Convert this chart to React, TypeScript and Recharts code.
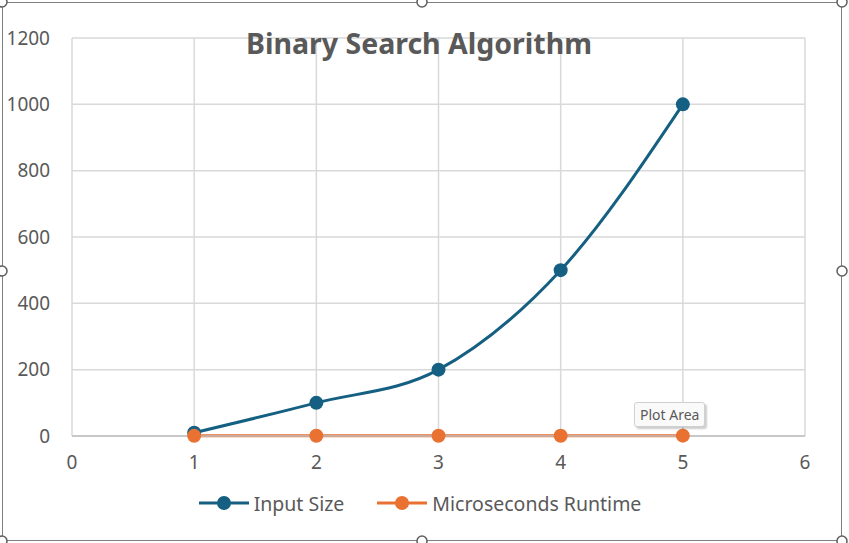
import React from "react";
import {
  LineChart,
  Line,
  XAxis,
  YAxis,
  CartesianGrid,
  Legend,
} from "recharts";

const xValues = [1, 2, 3, 4, 5];
const inputSize = [10, 100, 200, 500, 1000];
const runtime = [0.5, 0.7, 0.8, 0.9, 1];
const xTicks = [0, 1, 2, 3, 4, 5, 6];
const yTicks = [0, 200, 400, 600, 800, 1000, 1200];
const seriesNames = ["Input Size", "Microseconds Runtime"];
const seriesColors = ["#156082", "#E97132"];
const title = "Binary Search Algorithm";

const data = xValues.map((x, i) => ({
  x,
  input: inputSize[i],
  runtime: runtime[i],
}));

const FONT = "'Noto Sans', 'Open Sans', sans-serif";
const TEXT = "#595959";

const LegendContent = () => (
  <div
    style={{
      display: "flex",
      justifyContent: "center",
      alignItems: "center",
      height: 24,
      fontFamily: FONT,
      fontSize: 19.5,
      color: TEXT,
      paddingLeft: 22,
    }}
  >
    {seriesNames.map((name, i) => (
      <div
        key={name}
        style={{ display: "flex", alignItems: "center", marginRight: i === 0 ? 32 : 0 }}
      >
        <svg width={52} height={16} style={{ marginRight: 4 }}>
          <line x1={1} y1={8} x2={51} y2={8} stroke={seriesColors[i]} strokeWidth={3} />
          <circle cx={26} cy={8} r={7} fill={seriesColors[i]} />
        </svg>
        <span>{name}</span>
      </div>
    ))}
  </div>
);

const handles: [number, number][] = [
  [2, 2], [422, 2], [842, 2],
  [2, 271], [842, 271],
  [2, 541], [422, 541], [842, 541],
];

export default function App() {
  return (
    <div
      style={{
        position: "absolute",
        left: 0,
        top: 0,
        width: 849,
        height: 543,
        background: "#ffffff",
        overflow: "hidden",
      }}
    >
      <div
        style={{
          position: "absolute",
          left: 2,
          top: 2,
          width: 840,
          height: 539,
          border: "1.5px solid #7f7f7f",
          boxSizing: "border-box",
        }}
      />
      <LineChart
        width={849}
        height={543}
        data={data}
        margin={{ top: 38, right: 44, bottom: 53, left: 12 }}
      >
        <CartesianGrid stroke="#d9d9d9" strokeWidth={1.5} />
        <XAxis
          dataKey="x"
          type="number"
          domain={[0, 6]}
          ticks={xTicks}
          interval={0}
          height={30}
          tickSize={0}
          tickMargin={20}
          stroke="#bfbfbf"
          strokeWidth={1.5}
          tick={{ fill: TEXT, fontSize: 19, fontFamily: FONT }}
        />
        <YAxis
          type="number"
          domain={[0, 1200]}
          ticks={yTicks}
          interval={0}
          width={60}
          axisLine={false}
          tickLine={false}
          tickSize={0}
          tickMargin={22}
          tick={{ fill: TEXT, fontSize: 19, fontFamily: FONT }}
        />
        <Legend
          verticalAlign="bottom"
          content={<LegendContent />}
          wrapperStyle={{ bottom: 28 }}
        />
        <Line
          type="monotone"
          dataKey="input"
          name={seriesNames[0]}
          stroke={seriesColors[0]}
          strokeWidth={3}
          dot={{ r: 7, fill: seriesColors[0], stroke: seriesColors[0], strokeWidth: 0 }}
          isAnimationActive={false}
        />
        <Line
          type="monotone"
          dataKey="runtime"
          name={seriesNames[1]}
          stroke={seriesColors[1]}
          strokeWidth={3}
          dot={{ r: 7, fill: seriesColors[1], stroke: seriesColors[1], strokeWidth: 0 }}
          isAnimationActive={false}
        />
      </LineChart>
      <div
        style={{
          position: "absolute",
          left: 0,
          width: 838,
          top: 24,
          textAlign: "center",
          fontFamily: FONT,
          fontWeight: 700,
          fontSize: 28.5,
          color: TEXT,
          pointerEvents: "none",
        }}
      >
        {title}
      </div>
      <div
        style={{
          position: "absolute",
          left: 634,
          top: 402,
          padding: "2px 5px",
          background: "#fafafa",
          border: "1px solid #d0d0d0",
          borderRadius: 3,
          boxShadow: "2px 2px 2px rgba(0,0,0,0.2)",
          fontFamily: FONT,
          fontSize: 14,
          color: "#595959",
        }}
      >
        Plot Area
      </div>
      <svg
        width={849}
        height={543}
        style={{ position: "absolute", left: 0, top: 0, pointerEvents: "none" }}
      >
        {handles.map(([cx, cy], i) => (
          <circle key={i} cx={cx} cy={cy} r={5} fill="#ffffff" stroke="#5f5f5f" strokeWidth={1.5} />
        ))}
      </svg>
    </div>
  );
}
